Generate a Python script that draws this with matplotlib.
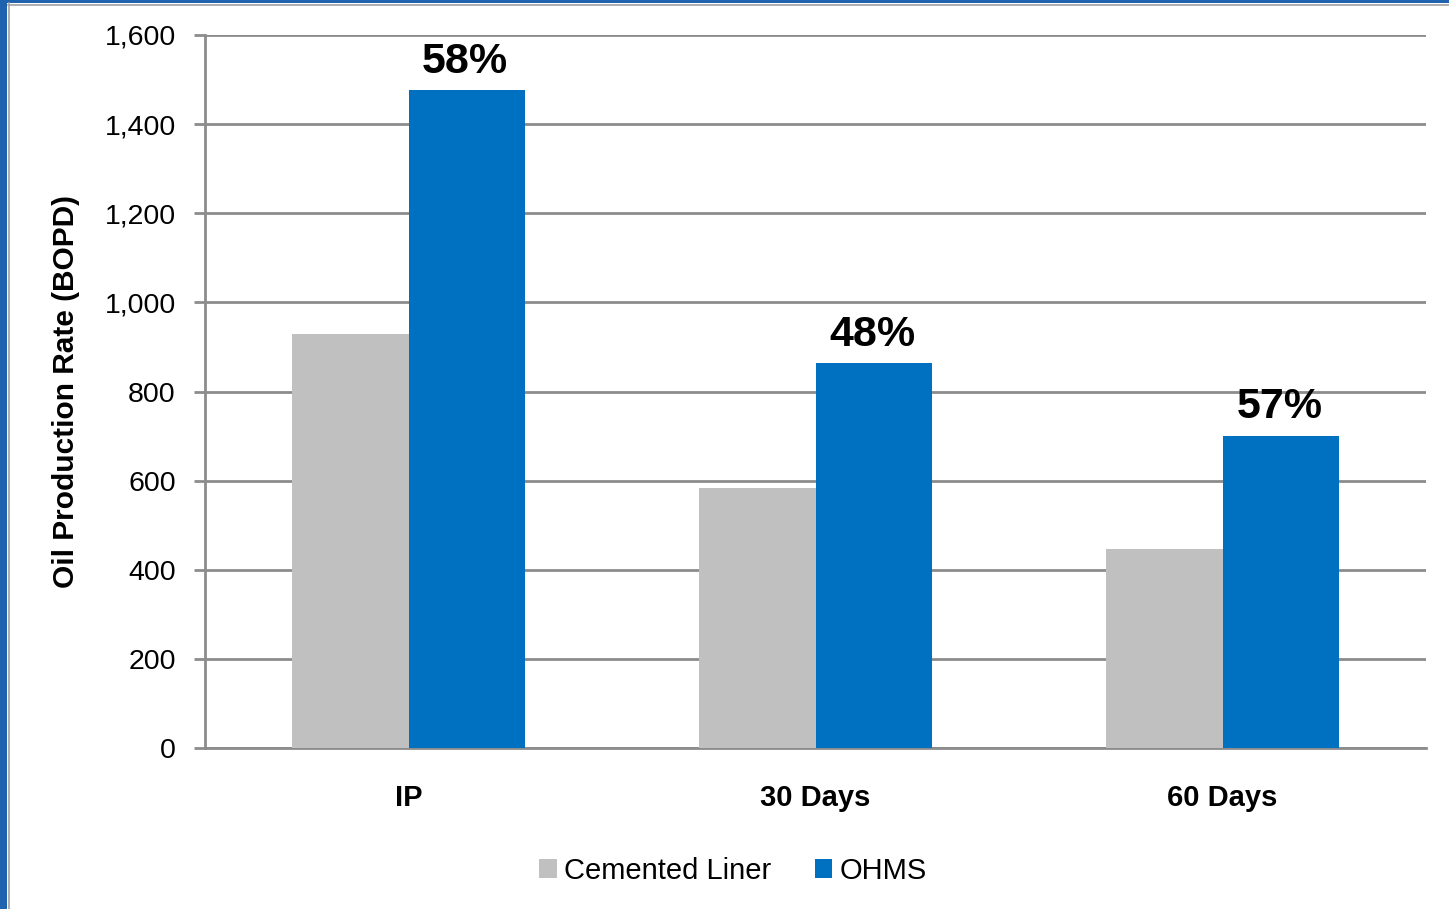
import matplotlib
matplotlib.use("Agg")
import matplotlib.pyplot as plt
from matplotlib.patches import Rectangle
import numpy as np

plt.rcParams['font.family'] = ['Liberation Sans', 'DejaVu Sans']

categories = ["IP", "30 Days", "60 Days"]
cemented_liner = [930, 584, 447]
ohms = [1476, 863, 701]
uplift_labels = ["58%", "48%", "57%"]
series_names = ["Cemented Liner", "OHMS"]
y_ticks = [0, 200, 400, 600, 800, 1000, 1200, 1400, 1600]

GRAY = "#C0C0C0"
BLUE = "#0070C0"
GRID = "#8C8C8C"

fig = plt.figure(figsize=(14.49, 9.09), dpi=100)
fig.patch.set_facecolor("white")

# Slide-style frame: blue band on left and top with a thin gray inner line
fig.patches.append(Rectangle((0, 0), 7 / 1449, 1, transform=fig.transFigure,
                             facecolor="#1F62AE", edgecolor="none", zorder=0))
fig.patches.append(Rectangle((0, 1 - 3 / 909), 1, 3 / 909, transform=fig.transFigure,
                             facecolor="#1F62AE", edgecolor="none", zorder=0))
fig.lines.append(plt.Line2D([8.5 / 1449, 8.5 / 1449], [0, 1 - 3 / 909],
                            transform=fig.transFigure, color="#A0A0A0", lw=1.2))
fig.lines.append(plt.Line2D([8 / 1449, 1], [1 - 4.5 / 909, 1 - 4.5 / 909],
                            transform=fig.transFigure, color="#A0A0A0", lw=1.2))

ax = fig.add_axes([205 / 1449, 1 - 748 / 909, (1426 - 205) / 1449, (748 - 35) / 909])

x = np.arange(len(categories))
w = 0.287
ax.bar(x - w / 2, cemented_liner, width=w, color=GRAY, label=series_names[0], zorder=3)
bars = ax.bar(x + w / 2, ohms, width=w, color=BLUE, label=series_names[1], zorder=3)

for rect, txt in zip(bars, uplift_labels):
    ax.annotate(txt, (rect.get_x() + rect.get_width() / 2 - 0.004, rect.get_height()),
                xytext=(0, 6), textcoords="offset points", ha="center", va="bottom",
                fontsize=31, fontweight="bold", color="black", zorder=4)

ax.set_xlim(-0.5, 2.5)
ax.set_ylim(0, 1600)
ax.set_yticks(y_ticks)
ax.set_yticklabels([f"{v:,}" for v in y_ticks], fontsize=20.5)
ax.set_xticks(x)
ax.set_xticklabels(categories, fontsize=21, fontweight="bold")
ax.tick_params(axis="x", length=0, pad=26)
ax.tick_params(axis="y", length=8, width=2, color=GRID, pad=13)

ax.yaxis.grid(True, color=GRID, lw=2, zorder=1)
ax.set_axisbelow(True)
for side in ["top", "right"]:
    ax.spines[side].set_visible(False)
for side in ["left", "bottom"]:
    ax.spines[side].set_color(GRID)
    ax.spines[side].set_linewidth(2)

ax.set_ylabel("Oil Production Rate (BOPD)", fontsize=21.5, fontweight="bold", labelpad=18)

leg = fig.legend(loc="center", bbox_to_anchor=(733 / 1449, 1 - 871 / 909), ncol=2,
                 frameon=False, fontsize=21, handlelength=0.6, handleheight=0.6,
                 handletextpad=0.25, columnspacing=1.5)

fig.savefig("out.png", dpi=100, facecolor="white")
